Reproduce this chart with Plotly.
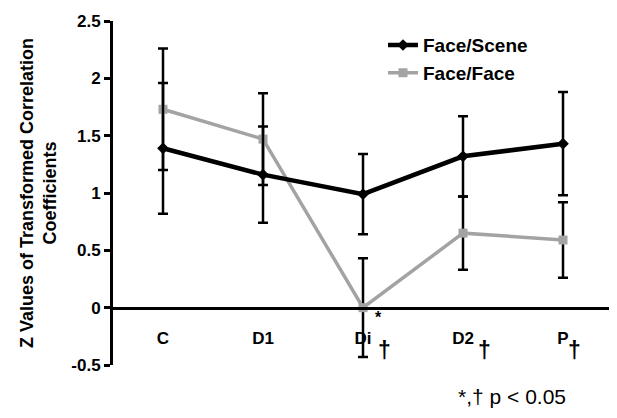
import plotly.graph_objects as go

categories = ["C", "D1", "Di", "D2", "P"]
face_scene = [1.39, 1.16, 0.99, 1.32, 1.43]
face_scene_err = [0.57, 0.42, 0.35, 0.35, 0.45]
face_face = [1.73, 1.47, 0.0, 0.65, 0.59]
face_face_err = [0.53, 0.40, 0.43, 0.32, 0.33]
ytick_vals = [-0.5, 0, 0.5, 1, 1.5, 2, 2.5]
ytick_text = ["-0.5", "0", "0.5", "1", "1.5", "2", "2.5"]
dagger_cats = ["Di", "D2", "P"]

FONT = "Liberation Sans, Arial, sans-serif"

fig = go.Figure()
fig.add_trace(go.Scatter(
    x=categories, y=face_face, name="Face/Face", mode="lines+markers",
    line=dict(color="#a3a3a3", width=3.5),
    marker=dict(symbol="square", size=9, color="#a3a3a3"),
    error_y=dict(type="data", array=face_face_err, color="black", thickness=2.5, width=5),
))
fig.add_trace(go.Scatter(
    x=categories, y=face_scene, name="Face/Scene", mode="lines+markers",
    line=dict(color="black", width=4.5),
    marker=dict(symbol="diamond", size=9, color="black"),
    error_y=dict(type="data", array=face_scene_err, color="black", thickness=2.5, width=5),
))

for c in dagger_cats:
    fig.add_annotation(x=c, y=-0.37, xref="x", yref="y", text="†", showarrow=False,
                       xshift=21 if c != "P" else 11,
                       font=dict(family=FONT, size=23, color="black", weight="bold"))
fig.add_annotation(x="Di", y=-0.09, xref="x", yref="y", text="*", showarrow=False,
                   xshift=15,
                   font=dict(family=FONT, size=16, color="black", weight="bold"))
fig.add_annotation(x=1.0, y=-0.093, xref="paper", yref="paper", text="*,† p < 0.05",
                   showarrow=False, xanchor="right", yanchor="middle", xshift=-45,
                   font=dict(family=FONT, size=21, color="black", weight="normal"))

fig.update_layout(
    width=609, height=410,
    margin=dict(l=105, r=4, t=13, b=53),
    paper_bgcolor="white", plot_bgcolor="white",
    font=dict(family=FONT, size=18, color="black"),
    showlegend=True,
    legend=dict(x=0.54, y=0.985, xanchor="left", yanchor="top", traceorder="reversed",
                bgcolor="rgba(0,0,0,0)", font=dict(size=19, weight="bold"),
                itemwidth=30, tracegroupgap=0),
    xaxis=dict(type="category", categoryorder="array", categoryarray=categories,
               showline=True, linecolor="black", linewidth=3,
               anchor="free", position=1/6, showgrid=False, zeroline=False,
               ticks="", tickfont=dict(size=17, weight="bold"), ticklabelstandoff=14,
               range=[-0.5, 4.5], automargin=False),
    yaxis=dict(range=[-0.5, 2.5], tickvals=ytick_vals, ticktext=ytick_text,
               showline=True, linecolor="black", linewidth=3, showgrid=False,
               zeroline=False, ticks="outside", ticklen=6, tickwidth=3, tickcolor="black",
               tickfont=dict(size=17, weight="bold"), automargin=False,
               title=dict(text="Z Values of Transformed Correlation<br>Coefficients",
                          font=dict(size=18, weight="bold"), standoff=10)),
)

fig.write_html("out.html")
